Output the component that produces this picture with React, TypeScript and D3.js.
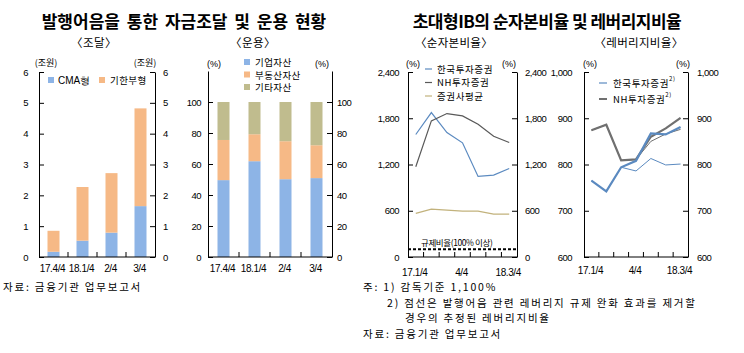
import React, { useEffect, useRef } from 'react';
import * as d3 from 'd3';

// 조달 (조원)
const fundCats = ['17.4/4', '18.1/4', '2/4', '3/4'];
const cmaVals = [0.17, 0.53, 0.79, 1.65];
const termVals = [0.68, 1.74, 1.93, 3.17];

// 운용 (%)
const useCats = ['17.4/4', '18.1/4', '2/4', '3/4'];
const corpVals = [49.6, 61.8, 50.2, 50.9];
const realVals = [25.9, 17.4, 24.5, 21.2];
const otherVals = [24.5, 20.8, 25.3, 27.9];

// quarters for the line charts
const quarters = ['17.1', '17.2', '17.3', '17.4', '18.1', '18.2', '18.3'];
const quarterLabels = ['17.1/4', '', '', '4/4', '', '', '18.3/4'];

// 순자본비율 (%)
const kisNcr = [1589, 1874, 1615, 1481, 1045, 1062, 1149];
const nhNcr = [1170, 1766, 1861, 1830, 1723, 1567, 1486];
const avgNcr = [566, 622, 609, 596, 596, 557, 557];

// 레버리지비율 (%)
const kisLev = [765, 742, 794, 808, 867, 865, 881];
const kisLevAdj = [765, 742, 794, 786, 813, 799, 801];
const nhLev = [874, 886, 809, 811, 860, 878, 901];
const nhLevAdj = [874, 886, 809, 811, 850, 866, 876];

const KR = "'Noto Sans CJK KR', sans-serif";
const NUM = "'Liberation Sans', Arial, sans-serif";

const BLUE = '#8db4e6';
const ORANGE = '#f6b986';
const OLIVE = '#c0bc8e';
const LINE_BLUE = '#5b8ac0';
const LINE_DARK = '#595959';
const LINE_TAN = '#c2b27c';
const LEV_GRAY = '#707070';

const App = () => {
  const svgRef = useRef<SVGSVGElement>(null);

  useEffect(() => {
    const svg = d3.select(svgRef.current);
    svg.selectAll('*').remove();

    const y0 = 257;

    // y axis with inward ticks
    const yAxis = (scale, x, ticks, fmt, side, pad) => {
      const axis = side === 'left' ? d3.axisLeft(scale) : d3.axisRight(scale);
      axis.tickValues(ticks).tickFormat(fmt).tickSizeInner(-5).tickSizeOuter(0).tickPadding(pad);
      const g = svg.append('g').attr('transform', `translate(${x},0)`).call(axis);
      g.attr('font-family', NUM).attr('font-size', 9.5);
      g.selectAll('text').attr('fill', '#000').attr('letter-spacing', -0.5);
      g.selectAll('line').attr('stroke', '#000');
      g.select('.domain').attr('stroke', '#000');
    };

    // bottom axis, ticks on the band edges
    const xAxis = (x, labels, labelY) => {
      const [a, b] = x.range();
      svg.append('line').attr('x1', a).attr('x2', b).attr('y1', y0).attr('y2', y0).attr('stroke', '#000');
      svg.selectAll(null).data(x.domain().slice(1)).enter().append('line')
        .attr('x1', d => x(d)).attr('x2', d => x(d))
        .attr('y1', y0).attr('y2', y0 - 5).attr('stroke', '#000');
      svg.selectAll(null).data(x.domain()).enter().append('text')
        .attr('x', d => x(d) + x.bandwidth() / 2 - 1)
        .attr('y', labelY)
        .attr('text-anchor', 'middle')
        .attr('font-family', NUM).attr('font-size', 10).attr('letter-spacing', -0.4)
        .text((d, i) => labels[i]);
    };

    const text = (x, y, s, size, anchor = 'start', weight = 400) =>
      svg.append('text').attr('x', x).attr('y', y).attr('text-anchor', anchor)
        .attr('font-family', KR).attr('font-size', size).attr('font-weight', weight)
        .attr('fill', '#000').text(s);

    // titles
    text(184, 28, '발행어음을 통한 자금조달 및 운용 현황', 17, 'middle', 700).attr('word-spacing', 3);
    text(547, 28, '초대형IB의 순자본비율 및 레버리지비율', 17, 'middle', 700).attr('letter-spacing', -0.5);
    text(94, 47, '〈조달〉', 11.5, 'middle').attr('letter-spacing', 0.5);
    text(253, 47, '〈운용〉', 11.5, 'middle').attr('letter-spacing', 0.5);
    text(454, 47, '〈순자본비율〉', 11.5, 'middle').attr('letter-spacing', 0.3);
    text(639, 47, '〈레버리지비율〉', 11.5, 'middle').attr('letter-spacing', 0.3);

    // ---------- panel 1: 조달 ----------
    const x1 = d3.scaleBand().domain(fundCats).range([39, 155]);
    const y1 = d3.scaleLinear().domain([0, 6]).range([y0, 72]);
    const fundRows = fundCats.map((c, i) => ({ cat: c, cma: cmaVals[i], term: termVals[i] }));
    const fundStack = d3.stack().keys(['cma', 'term'])(fundRows);
    const fundColor = { cma: BLUE, term: ORANGE };
    svg.append('g').selectAll('g').data(fundStack).enter().append('g')
      .attr('fill', d => fundColor[d.key])
      .selectAll('rect').data(d => d).enter().append('rect')
      .attr('x', d => x1(d.data.cat) + (x1.bandwidth() - 12) / 2)
      .attr('width', 12)
      .attr('y', d => y1(d[1]))
      .attr('height', d => y1(d[0]) - y1(d[1]));
    yAxis(y1, 39, d3.range(0, 7), d3.format('d'), 'left', 11);
    yAxis(y1, 155, d3.range(0, 7), d3.format('d'), 'right', 8);
    xAxis(x1, fundCats, 272);
    text(46, 66, '(조원)', 9, 'middle');
    text(145, 66, '(조원)', 9, 'middle');
    svg.append('rect').attr('x', 48).attr('y', 77).attr('width', 6).attr('height', 6).attr('fill', BLUE);
    svg.append('text').attr('x', 58).attr('y', 84).attr('font-family', NUM).attr('font-size', 10)
      .text('CMA형');
    svg.append('rect').attr('x', 99).attr('y', 77).attr('width', 6).attr('height', 6).attr('fill', ORANGE);
    text(110, 84, '기한부형', 9.5).attr('letter-spacing', 0.4);

    // ---------- panel 2: 운용 ----------
    const x2 = d3.scaleBand().domain(useCats).range([208, 332]);
    const y2 = d3.scaleLinear().domain([0, 120]).range([y0, 71]);
    const useRows = useCats.map((c, i) => ({ cat: c, corp: corpVals[i], real: realVals[i], other: otherVals[i] }));
    const useStack = d3.stack().keys(['corp', 'real', 'other'])(useRows);
    const useColor = { corp: BLUE, real: ORANGE, other: OLIVE };
    svg.append('g').selectAll('g').data(useStack).enter().append('g')
      .attr('fill', d => useColor[d.key])
      .selectAll('rect').data(d => d).enter().append('rect')
      .attr('x', d => x2(d.data.cat) + (x2.bandwidth() - 12) / 2)
      .attr('width', 12)
      .attr('y', d => y2(d[1]))
      .attr('height', d => y2(d[0]) - y2(d[1]));
    yAxis(y2, 208, d3.range(0, 101, 20), d3.format('d'), 'left', 7);
    yAxis(y2, 332, d3.range(0, 101, 20), d3.format('d'), 'right', 5);
    xAxis(x2, useCats, 272);
    svg.append('text').attr('x', 214).attr('y', 67).attr('text-anchor', 'middle')
      .attr('font-family', NUM).attr('font-size', 9).text('(%)');
    svg.append('text').attr('x', 322).attr('y', 67).attr('text-anchor', 'middle')
      .attr('font-family', NUM).attr('font-size', 9).text('(%)');
    const useLegend = [['기업자산', BLUE], ['부동산자산', ORANGE], ['기타자산', OLIVE]];
    useLegend.forEach(([label, color], i) => {
      svg.append('rect').attr('x', 244).attr('y', 59 + i * 12.5).attr('width', 6).attr('height', 6).attr('fill', color);
      text(255, 66 + i * 12.5, label, 9.5).attr('letter-spacing', 0.4);
    });

    // ---------- panel 3: 순자본비율 ----------
    const x3 = d3.scaleBand().domain(quarters).range([408, 517]);
    const y3 = d3.scaleLinear().domain([0, 2400]).range([y0, 72]);
    const line3 = d3.line<number>()
      .x((d, i) => x3(quarters[i]) + x3.bandwidth() / 2)
      .y(d => y3(d));
    const ncrSeries = [
      { name: '한국투자증권', values: kisNcr, color: LINE_BLUE },
      { name: 'NH투자증권', values: nhNcr, color: LINE_DARK },
      { name: '증권사평균', values: avgNcr, color: LINE_TAN },
    ];
    ncrSeries.forEach(s => {
      svg.append('path').attr('d', line3(s.values)).attr('fill', 'none')
        .attr('stroke', s.color).attr('stroke-width', 1.2);
    });
    svg.append('line').attr('x1', 408).attr('x2', 517).attr('y1', y3(100)).attr('y2', y3(100))
      .attr('stroke', '#000').attr('stroke-width', 2).attr('stroke-dasharray', '3,2');
    text(421, 246, '규제비율(100% 이상)', 8.5).attr('letter-spacing', -0.4);
    const ncrFmt = d3.format(',');
    yAxis(y3, 408, d3.range(0, 2401, 600), ncrFmt, 'left', 9);
    yAxis(y3, 517, d3.range(0, 2401, 600), ncrFmt, 'right', 8);
    xAxis(x3, quarterLabels, 276);
    svg.append('text').attr('x', 413).attr('y', 67).attr('text-anchor', 'middle')
      .attr('font-family', NUM).attr('font-size', 9).text('(%)');
    svg.append('text').attr('x', 509).attr('y', 67).attr('text-anchor', 'middle')
      .attr('font-family', NUM).attr('font-size', 9).text('(%)');
    ncrSeries.forEach((s, i) => {
      const ly = 69 + i * 13.5;
      svg.append('line').attr('x1', 425).attr('x2', 432).attr('y1', ly).attr('y2', ly)
        .attr('stroke', s.color).attr('stroke-width', 1.2);
      text(437, ly + 3.5, s.name, 9.5).attr('letter-spacing', 0.6);
    });

    // ---------- panel 4: 레버리지비율 ----------
    const x4 = d3.scaleBand().domain(quarters).range([584, 688]);
    const y4 = d3.scaleLinear().domain([600, 1000]).range([y0, 72]);
    const line4 = d3.line<number>()
      .x((d, i) => x4(quarters[i]) + x4.bandwidth() / 2)
      .y(d => y4(d));
    const levSeries = [
      { values: kisLevAdj, color: LINE_BLUE, w: 1 },
      { values: nhLevAdj, color: LEV_GRAY, w: 1 },
      { values: nhLev, color: LEV_GRAY, w: 2.2 },
      { values: kisLev, color: LINE_BLUE, w: 2.2 },
    ];
    levSeries.forEach(s => {
      svg.append('path').attr('d', line4(s.values)).attr('fill', 'none')
        .attr('stroke', s.color).attr('stroke-width', s.w);
    });
    yAxis(y4, 584, d3.range(600, 1001, 100), ncrFmt, 'left', 12);
    yAxis(y4, 688, d3.range(600, 1001, 100), ncrFmt, 'right', 9);
    xAxis(x4, quarterLabels, 274);
    svg.append('text').attr('x', 590).attr('y', 67).attr('text-anchor', 'middle')
      .attr('font-family', NUM).attr('font-size', 9).text('(%)');
    svg.append('text').attr('x', 683).attr('y', 67).attr('text-anchor', 'middle')
      .attr('font-family', NUM).attr('font-size', 9).text('(%)');
    const levLegend = [['한국투자증권', LINE_BLUE, 1.2], ['NH투자증권', LEV_GRAY, 2]];
    levLegend.forEach(([label, color, w], i) => {
      const ly = 83 + i * 16;
      svg.append('line').attr('x1', 599).attr('x2', 607).attr('y1', ly).attr('y2', ly)
        .attr('stroke', color).attr('stroke-width', w);
      const t = text(613, ly + 3.5, label, 9.5).attr('letter-spacing', 0.6);
      t.append('tspan').attr('font-size', 6).attr('dy', -6).text('2)');
    });

    // ---------- footnotes ----------
    const note = (x, y, s) => text(x, y, s, 10.5).attr('letter-spacing', 1.8);
    note(3, 291, '자료:  금융기관 업무보고서');
    note(363, 291, '주: 1) 감독기준 1,100%');
    note(387, 306.5, '2) 점선은 발행어음 관련 레버리지 규제 완화 효과를 제거할');
    note(405, 322, '경우의 추정된 레버리지비율');
    note(363, 337.5, '자료:  금융기관 업무보고서');
  }, []);

  return (
    <svg
      ref={svgRef}
      width={744}
      height={353}
      style={{ position: 'absolute', left: 0, top: 0, background: '#fff' }}
    />
  );
};

export default App;
